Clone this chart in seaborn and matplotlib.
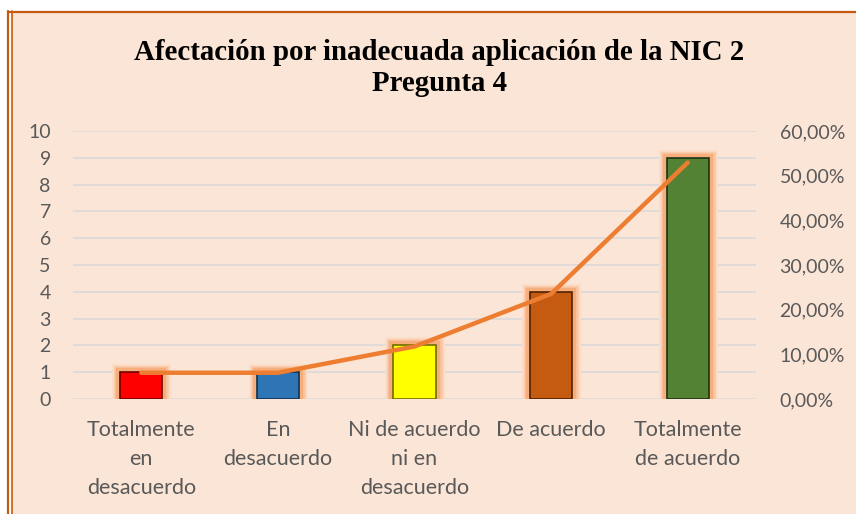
import numpy as np
import pandas as pd
import matplotlib as mpl
mpl.use('Agg')
import matplotlib.pyplot as plt
import matplotlib.patheffects as pe
from matplotlib.ticker import FuncFormatter
import seaborn as sns

# Data
categorias = ['Totalmente\nen\ndesacuerdo', 'En\ndesacuerdo', 'Ni de acuerdo\nni en\ndesacuerdo',
              'De acuerdo', 'Totalmente\nde acuerdo']
frecuencia = [1, 1, 2, 4, 9]
porcentaje = [0.0588, 0.0588, 0.1176, 0.2353, 0.5294]
colores = ['#FF0000', '#2E75B6', '#FFFF00', '#C55A11', '#548235']
bordes = ['#6E0000', '#10304F', '#6E6E00', '#4F2205', '#1F3312']

titulo = 'Afectación por inadecuada aplicación de la NIC 2\nPregunta 4'

BG = '#FBE5D6'
GRIS = '#595959'

sns.set_style('white')
plt.rcParams['font.family'] = ['Lato', 'DejaVu Sans']

df = pd.DataFrame({'cat': categorias, 'n': frecuencia, 'pct': porcentaje})

fig = plt.figure(figsize=(8.56, 5.14), dpi=100, facecolor='white')
W, H = 856, 514

# peach chart area with orange frame
fig.patches.append(plt.Rectangle((12 / W, 0), 1, 1 - 12 / H, transform=fig.transFigure,
                                 facecolor=BG, edgecolor='none', zorder=-10))
for xx, lw in [(8, 1.6), (11.5, 1.2)]:
    fig.add_artist(plt.Line2D([xx / W, xx / W], [0, 1 - 11 / H], transform=fig.transFigure,
                              color='#C55A11', lw=lw))
fig.add_artist(plt.Line2D([8 / W, 1], [1 - 12 / H, 1 - 12 / H], transform=fig.transFigure,
                          color='#C55A11', lw=1.6))

ax = fig.add_axes([73 / W, 1 - 399 / H, (756 - 73) / W, (399 - 131) / H])
ax.set_facecolor('none')

sns.barplot(data=df, x='cat', y='n', hue='cat', palette=colores, legend=False,
            saturation=1, width=0.31, ax=ax, zorder=3)
for p, ec in zip(ax.patches, bordes):
    p.set_edgecolor(ec)
    p.set_linewidth(1.2)
    p.set_path_effects([pe.Stroke(linewidth=12, foreground='#FBDCC6'),
                        pe.Stroke(linewidth=9, foreground='#F9C6A2'),
                        pe.Stroke(linewidth=6, foreground='#F5AE7C'),
                        pe.Normal()])

ax.set_ylim(0, 10)
ax.set_yticks(range(0, 11))
ax.set_xlim(-0.5, 4.5)
ax.grid(axis='y', color='#D9D9D9', lw=1.1, zorder=0)
ax.set_axisbelow(True)
for s in ax.spines.values():
    s.set_visible(False)
ax.tick_params(axis='y', length=0, pad=16, labelsize=14, labelcolor=GRIS)
ax.tick_params(axis='x', length=0, pad=15, labelsize=15.5, labelcolor=GRIS)
ax.set_xlabel('')
ax.set_ylabel('')
for t in ax.get_xticklabels():
    t.set_linespacing(1.58)

ax2 = ax.twinx()
sns.lineplot(x=list(range(len(porcentaje))), y=porcentaje, ax=ax2, color='#ED7D31',
             lw=3.2, solid_capstyle='round', solid_joinstyle='round', zorder=5)
ax2.set_ylim(0, 0.6)
ax2.set_yticks(np.arange(0, 0.61, 0.1))
ax2.yaxis.set_major_formatter(FuncFormatter(lambda v, _: f'{v * 100:.2f}%'.replace('.', ',')))
for s in ax2.spines.values():
    s.set_visible(False)
ax2.tick_params(axis='y', length=0, pad=17, labelsize=14, labelcolor=GRIS)
ax2.set_ylabel('')

fig.text(439 / W, 1 - 68 / H, titulo, ha='center', va='center', fontsize=20.8,
         fontweight='bold', family=['Liberation Serif', 'DejaVu Serif'], color='black',
         linespacing=1.2)

fig.savefig('out.png', dpi=100, facecolor=fig.get_facecolor())
